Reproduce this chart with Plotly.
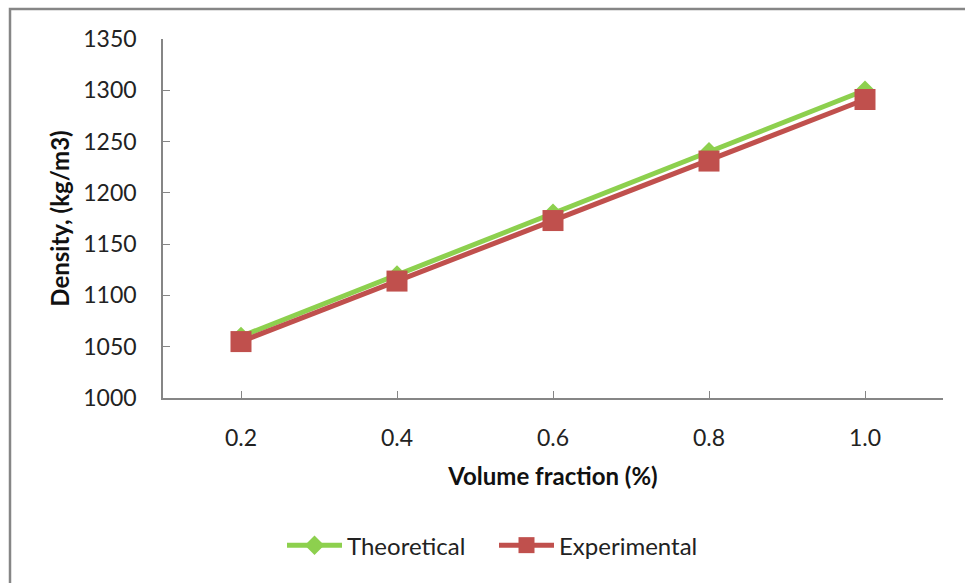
import plotly.graph_objects as go

categories = ["0.2", "0.4", "0.6", "0.8", "1.0"]
theoretical = [1060, 1120, 1180, 1240, 1300]
experimental = [1055, 1114, 1173, 1231, 1291]
y_ticks = [1000, 1050, 1100, 1150, 1200, 1250, 1300, 1350]

FONT = "Lato, Open Sans, sans-serif"
AXIS_GREY = "#868686"
GREEN = "#8DD04E"
RED = "#C0504D"

fig = go.Figure()
fig.add_trace(go.Scatter(
    x=list(range(len(categories))), y=theoretical, name="Theoretical",
    mode="lines+markers",
    line=dict(color=GREEN, width=5),
    marker=dict(symbol="diamond", size=15, color=GREEN),
))
fig.add_trace(go.Scatter(
    x=list(range(len(categories))), y=experimental, name="Experimental",
    mode="lines+markers",
    line=dict(color=RED, width=5),
    marker=dict(symbol="square", size=21, color=RED),
))

L, R, T, B = 163, 22, 39, 185
W, H = 965, 583
pw, ph = W - L - R, H - T - B

fig.update_layout(
    width=W, height=H,
    margin=dict(l=L, r=R, t=T, b=B, pad=0),
    paper_bgcolor="white", plot_bgcolor="white",
    font=dict(family=FONT, size=23, color="#222222"),
    showlegend=True,
    legend=dict(orientation="h", x=(282 - L) / pw, xanchor="left", y=-0.411, yanchor="middle",
                font=dict(size=24), traceorder="normal", itemwidth=55,
                entrywidthmode="pixels", entrywidth=142),
    xaxis=dict(
        range=[-0.5, 4.5], tickmode="array",
        tickvals=list(range(len(categories))), ticktext=categories,
        showgrid=False, zeroline=False, showline=True, linecolor=AXIS_GREY, linewidth=1.5,
        ticks="inside", ticklen=7, tickcolor=AXIS_GREY,
        ticklabelstandoff=19,
        title=dict(text="<b>Volume fraction (%)</b>", font=dict(size=24, color="#111111"), standoff=18),
    ),
    yaxis=dict(
        range=[1000, 1350], tickmode="array", tickvals=y_ticks,
        showgrid=False, zeroline=False, showline=True, linecolor=AXIS_GREY, linewidth=1.5,
        ticks="inside", ticklen=7, tickcolor=AXIS_GREY,
        ticklabelstandoff=20,
        title=dict(text="<b>Density, (kg/m3)</b>", font=dict(size=24, color="#111111"), standoff=7),
    ),
)

# outer chart border (extends beyond the right and bottom edges)
fig.add_shape(type="rect", xref="paper", yref="paper",
              x0=(10 - L) / pw, x1=(W + 20 - L) / pw,
              y0=(H - B - (H + 20)) / ph, y1=(H - B - 9) / ph,
              line=dict(color=AXIS_GREY, width=2.5), fillcolor="rgba(0,0,0,0)", layer="below")

fig.write_html("out.html")
